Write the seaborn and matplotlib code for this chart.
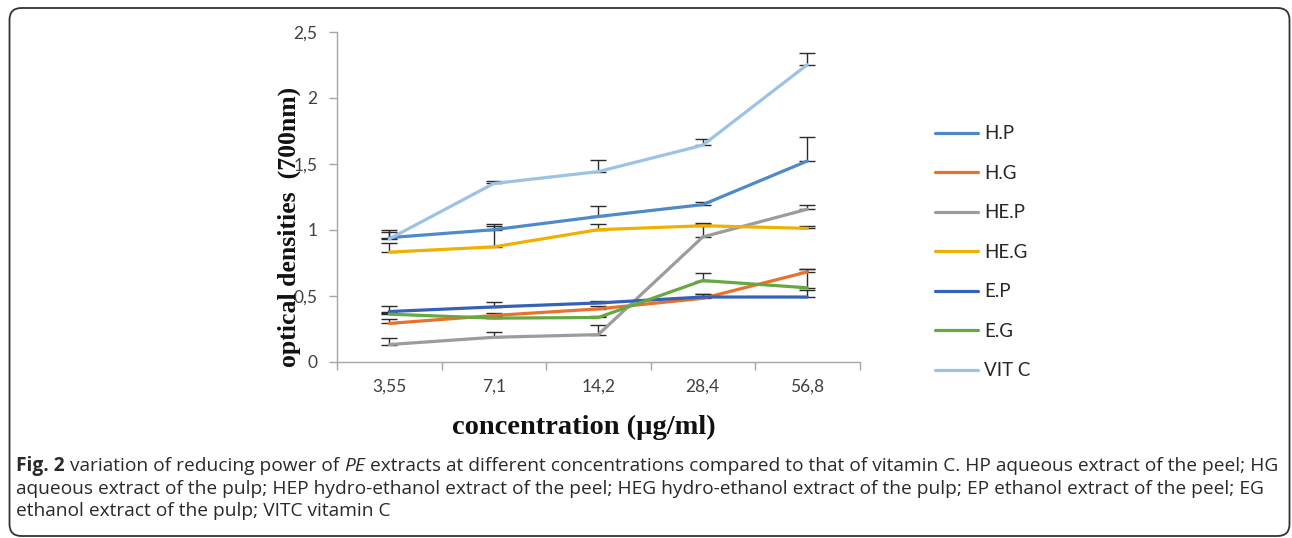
import numpy as np
import pandas as pd
import matplotlib
matplotlib.use("Agg")
import matplotlib.pyplot as plt
import seaborn as sns
from matplotlib.patches import FancyBboxPatch
from matplotlib.transforms import IdentityTransform

# ---------------- data ----------------
categories = ["3,55", "7,1", "14,2", "28,4", "56,8"]
series_names = ["H.P", "H.G", "HE.P", "HE.G", "E.P", "E.G", "VIT C"]
hp = [0.94, 1.00, 1.10, 1.19, 1.52]
hg = [0.29, 0.35, 0.40, 0.48, 0.68]
hep = [0.13, 0.185, 0.205, 0.945, 1.155]
heg = [0.83, 0.87, 1.00, 1.03, 1.01]
ep = [0.38, 0.415, 0.445, 0.49, 0.49]
eg = [0.36, 0.33, 0.335, 0.615, 0.56]
vitc = [0.93, 1.35, 1.44, 1.64, 2.25]

hp_err = [0.04, 0.03, 0.08, 0.02, 0.18]
hg_err = [0.03, 0.02, 0.02, 0.03, 0.02]
hep_err = [0.05, 0.04, 0.07, 0.10, 0.03]
heg_err = [0.07, 0.17, 0.04, 0.02, 0.02]
ep_err = [0.04, 0.04, 0.015, 0.02, 0.05]
eg_err = [0.01, 0.01, 0.01, 0.055, 0.14]
vitc_err = [0.07, 0.02, 0.09, 0.05, 0.09]

ytick_vals = [0, 0.5, 1, 1.5, 2, 2.5]
ytick_labels = ["0", "0,5", "1", "1,5", "2", "2,5"]

values = [hp, hg, hep, heg, ep, eg, vitc]
errors = [hp_err, hg_err, hep_err, heg_err, ep_err, eg_err, vitc_err]
colors = ["#4e8ac8", "#e8722c", "#9c9c9c", "#f0b000", "#3462b8", "#66a842", "#9cc3e6"]

rows = []
for name, vals in zip(series_names, values):
    for c, v in zip(categories, vals):
        rows.append({"series": name, "conc": c, "od": v})
df = pd.DataFrame(rows)

# ---------------- figure ----------------
sns.set_style("white")
plt.rcParams["font.family"] = ["Lato", "DejaVu Sans"]

W, H = 1292, 538
fig = plt.figure(figsize=(W / 100, H / 100), dpi=100)
ax = fig.add_axes([337 / W, 1 - 361.7 / H, (859.5 - 337) / W, (361.7 - 31.7) / H])

palette = dict(zip(series_names, colors))
sns.lineplot(data=df, x="conc", y="od", hue="series", hue_order=series_names,
             palette=palette, linewidth=2.3, sort=False, ax=ax, legend=True)

xpos = np.arange(len(categories))
for vals, errs in zip(values, errors):
    ax.errorbar(xpos, vals, yerr=[np.zeros(len(errs)), errs], fmt="none",
                ecolor="#2b2b2b", elinewidth=1.0, capsize=5.5, capthick=1.0, zorder=1)

axis_gray = "#a6a6a6"
ax.set_xlim(-0.5, len(categories) - 0.5)
ax.set_ylim(0, 2.5)
ax.set_xticks(np.arange(len(categories) + 1) - 0.5)
ax.set_xticklabels([])
ax.set_xticks(xpos, minor=True)
ax.set_xticklabels(categories, minor=True)
ax.set_yticks(ytick_vals)
ax.set_yticklabels(ytick_labels)
ax.tick_params(axis="x", which="major", length=6, width=1, color=axis_gray, direction="out", bottom=True)
ax.tick_params(axis="x", which="minor", length=0, pad=12, labelsize=12.5, labelcolor="#404040")
ax.tick_params(axis="y", which="major", length=6, width=1, color=axis_gray, direction="out", left=True,
               pad=8, labelsize=12.5, labelcolor="#404040")
for s in ["top", "right"]:
    ax.spines[s].set_visible(False)
for s in ["left", "bottom"]:
    ax.spines[s].set_color(axis_gray)
    ax.spines[s].set_linewidth(1.0)
ax.set_xlabel("")
ax.set_ylabel("")
ax.grid(False)

# legend
handles, labels = ax.get_legend_handles_labels()
ax.legend_.remove()
leg = fig.legend(handles, labels, loc="center left",
                 bbox_to_anchor=(935 / W, 1 - 252.5 / H), frameon=False,
                 fontsize=13.5, handlelength=2.3, handletextpad=0.3, labelspacing=1.2,
                 borderpad=0, borderaxespad=0)
for t in leg.get_texts():
    t.set_color("#262626")

# axis titles
fig.text(584 / W, 1 - 427 / H, "concentration (µg/ml)", ha="center", va="center",
         fontsize=20.5, fontweight="bold", family="Liberation Serif", color="#111111")
fig.text(289 / W, 1 - 227 / H, "optical densities  (700nm)", ha="center", va="center",
         rotation=90, fontsize=18.5, fontweight="bold", family="Liberation Serif", color="#111111")

# frame
frame = FancyBboxPatch((9.5, 2), 1280, 528, boxstyle="round,pad=0,rounding_size=12",
                       transform=IdentityTransform(), fill=False, edgecolor="#333333",
                       linewidth=1.3, figure=fig)
fig.patches.append(frame)

# caption
cap_font = "Open Sans"
cap_size = 13.75
cap_color = "#2a2a2a"
renderer = fig.canvas.get_renderer()

def rich_line(x_px, y_px, parts):
    x = x_px
    for txt, weight, style in parts:
        t = fig.text(x / W, 1 - y_px / H, txt, ha="left", va="center", fontsize=cap_size,
                     family=cap_font, fontweight=weight, fontstyle=style, color=cap_color)
        bb = t.get_window_extent(renderer=renderer)
        x = bb.x1

rich_line(16, 466, [("Fig. 2", "bold", "normal"), (" variation of reducing power of ", "normal", "normal"),
                    ("PE", "normal", "italic"),
                    (" extracts at different concentrations compared to that of vitamin C. HP aqueous extract of the peel; HG", "normal", "normal")])
rich_line(16, 489, [("aqueous extract of the pulp; HEP hydro-ethanol extract of the peel; HEG hydro-ethanol extract of the pulp; EP ethanol extract of the peel; EG", "normal", "normal")])
rich_line(16, 511, [("ethanol extract of the pulp; VITC vitamin C", "normal", "normal")])

fig.savefig("out.png", dpi=100)
